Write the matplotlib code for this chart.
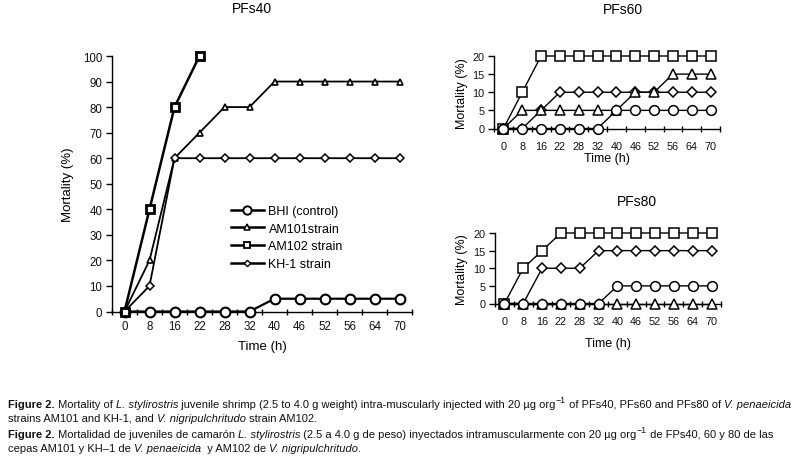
import matplotlib
matplotlib.use("Agg")
import matplotlib.pyplot as plt
from matplotlib import font_manager
from matplotlib.lines import Line2D

# ---------------- data ----------------
time_labels = ['0', '8', '16', '22', '28', '32', '40', '46', '52', '56', '64', '70']

pfs40_bhi = [0, 0, 0, 0, 0, 0, 5, 5, 5, 5, 5, 5]
pfs40_am101 = [0, 20, 60, 70, 80, 80, 90, 90, 90, 90, 90, 90]
pfs40_am102 = [0, 40, 80, 100]
pfs40_kh1 = [0, 10, 60, 60, 60, 60, 60, 60, 60, 60, 60, 60]

pfs60_bhi = [0, 0, 0, 0, 0, 0, 5, 5, 5, 5, 5, 5]
pfs60_am101 = [0, 5, 5, 5, 5, 5, 5, 10, 10, 15, 15, 15]
pfs60_am102 = [0, 10, 20, 20, 20, 20, 20, 20, 20, 20, 20, 20]
pfs60_kh1 = [0, 0, 5, 10, 10, 10, 10, 10, 10, 10, 10, 10]

pfs80_bhi = [0, 0, 0, 0, 0, 0, 5, 5, 5, 5, 5, 5]
pfs80_am101 = [0, 0, 0, 0, 0, 0, 0, 0, 0, 0, 0, 0]
pfs80_am102 = [0, 10, 15, 20, 20, 20, 20, 20, 20, 20, 20, 20]
pfs80_kh1 = [0, 0, 10, 10, 10, 15, 15, 15, 15, 15, 15, 15]

legend_labels = ['BHI (control)', 'AM101strain', 'AM102 strain', 'KH-1 strain']
panel_titles = ['PFs40', 'PFs60', 'PFs80']

# ---------------- fonts ----------------
avail = {f.name for f in font_manager.fontManager.ttflist}
base_font = 'Liberation Sans' if 'Liberation Sans' in avail else 'DejaVu Sans'
cap_font = 'Liberation Sans Narrow' if 'Liberation Sans Narrow' in avail else base_font
plt.rcParams['font.family'] = [base_font, 'DejaVu Sans']

W, H = 793, 464
fig = plt.figure(figsize=(W / 100, H / 100), dpi=100)
fig.patch.set_facecolor('white')


def px_axes(l, r, t, b):
    return fig.add_axes([l / W, 1 - b / H, (r - l) / W, (b - t) / H])


def style_axes(ax, ymax, ystep, fs, xpad):
    n = len(time_labels)
    ax.set_xlim(-0.5, n - 0.5)
    ax.set_ylim(0, ymax)
    ax.set_yticks(list(range(0, ymax + 1, ystep)))
    ax.set_xticks(range(n))
    ax.set_xticklabels(time_labels)
    ax.set_xticks([i - 0.5 for i in range(n + 1)], minor=True)
    ax.tick_params(axis='x', which='major', length=0, labelsize=fs, pad=xpad)
    ax.tick_params(axis='x', which='minor', length=4, width=1, direction='inout')
    ax.tick_params(axis='y', length=4, width=1, direction='out', labelsize=fs, pad=3)
    for s in ['top', 'right']:
        ax.spines[s].set_visible(False)
    for s in ['left', 'bottom']:
        ax.spines[s].set_linewidth(1)
        ax.spines[s].set_color('black')
    for lab in ax.get_xticklabels() + ax.get_yticklabels():
        lab.set_color('#111111')
    ax.patch.set_alpha(0)


x = list(range(len(time_labels)))

# ---------------- PFs40 ----------------
l1, r1, t1, b1 = 112, 412, 57, 312.5
ax1 = px_axes(l1, r1, t1, b1)
style_axes(ax1, 100, 10, 8.3, 6)
ax1.plot(x, pfs40_bhi, '-o', color='black', lw=1.6, ms=7, mfc='white', mec='black', mew=1.5,
         zorder=3, clip_on=False)
ax1.plot(x, pfs40_am101, '-^', color='black', lw=1.3, ms=5, mfc='white', mec='black', mew=1.2,
         zorder=3, clip_on=False)
ax1.plot(x[:len(pfs40_am102)], pfs40_am102, '-s', color='black', lw=1.8, ms=5.5, mfc='white',
         mec='black', mew=2, zorder=4, clip_on=False)
ax1.plot(x, pfs40_kh1, '-D', color='black', lw=1.3, ms=3.8, mfc='white', mec='black', mew=1.1,
         zorder=3, clip_on=False)
ax1.set_xlabel('Time (h)', fontsize=9.5)
ax1.xaxis.set_label_coords(0.5, -(341 - b1) / (b1 - t1))
ax1.set_ylabel('Mortality (%)', fontsize=9.5)
ax1.yaxis.set_label_coords(-(l1 - 74) / (r1 - l1), 0.5)

handles = [
    Line2D([], [], color='black', lw=1.8, marker='o', ms=6, mfc='white', mec='black', mew=1.4),
    Line2D([], [], color='black', lw=1.8, marker='^', ms=4, mfc='white', mec='black', mew=1.1),
    Line2D([], [], color='black', lw=1.8, marker='s', ms=4, mfc='white', mec='black', mew=1.3),
    Line2D([], [], color='black', lw=1.8, marker='D', ms=3.2, mfc='white', mec='black', mew=1.0),
]
ax1.legend(handles, legend_labels, loc='upper left',
           bbox_to_anchor=((226 - l1) / (r1 - l1), 1 - (201 - t1) / (b1 - t1)),
           frameon=False, fontsize=9, handlelength=2.6, handletextpad=0.4,
           labelspacing=0.45, borderaxespad=0)
fig.text(252 / W, 1 - 9 / H, panel_titles[0], ha='center', va='center', fontsize=10)


def small_panel(l, r, t, b, bhi, am101, am102, kh1, title, tx, ty, xlab_top):
    ax = px_axes(l, r, t, b)
    style_axes(ax, 20, 5, 7.8, 9)
    ax.plot(x, am102, '-s', color='black', lw=1.0, ms=7.5, mfc='white', mec='black', mew=1.1,
            zorder=3, clip_on=False)
    ax.plot(x, kh1, '-D', color='black', lw=1.0, ms=5.5, mfc='white', mec='black', mew=1.1,
            zorder=3, clip_on=False)
    ax.plot(x, am101, '-^', color='black', lw=1.0, ms=6.5, mfc='white', mec='black', mew=1.1,
            zorder=3, clip_on=False)
    ax.plot(x, bhi, '-o', color='black', lw=1.0, ms=7, mfc='white', mec='black', mew=1.1,
            zorder=3, clip_on=False)
    ax.set_xlabel('Time (h)', fontsize=9)
    ax.xaxis.set_label_coords(0.5, -(xlab_top - b) / (b - t))
    ax.set_ylabel('Mortality (%)', fontsize=9)
    ax.yaxis.set_label_coords(-(l - 468) / (r - l), 0.5)
    fig.text(tx / W, 1 - ty / H, title, ha='center', va='center', fontsize=10)
    return ax


small_panel(494, 720, 57, 129.5, pfs60_bhi, pfs60_am101, pfs60_am102, pfs60_kh1,
            panel_titles[1], 623, 10, 153.5)
small_panel(495, 721, 234, 304.5, pfs80_bhi, pfs80_am101, pfs80_am102, pfs80_kh1,
            panel_titles[2], 637, 202, 338)

# ---------------- caption ----------------
cap1 = [('Figure 2.', 'b'), (' Mortality of ', 'n'), ('L. stylirostris', 'i'),
        (' juvenile shrimp (2.5 to 4.0 g weight) intra-muscularly injected with 20 µg org', 'n'),
        ('−1', 's'), (' of PFs40, PFs60 and PFs80 of ', 'n'), ('V. penaeicida', 'i')]
cap2 = [('strains AM101 and KH-1, and ', 'n'), ('V. nigripulchritudo', 'i'), (' strain AM102.', 'n')]
cap3 = [('Figure 2.', 'b'), (' Mortalidad de juveniles de camarón ', 'n'), ('L. stylirostris', 'i'),
        (' (2.5 a 4.0 g de peso) inyectados intramuscularmente con 20 µg org', 'n'), ('−1', 's'),
        (' de FPs40, 60 y 80 de las', 'n')]
cap4 = [('cepas AM101 y KH–1 de ', 'n'), ('V. penaeicida', 'i'), ('  y AM102 de ', 'n'),
        ('V. nigripulchritudo', 'i'), ('.', 'n')]

renderer = fig.canvas.get_renderer()


def draw_rich(x0, y0, segs, fs, family, draw=True):
    xp = x0
    arts = []
    for txt, st in segs:
        kw = dict(fontsize=fs, family=[family, 'DejaVu Sans'], va='baseline', ha='left',
                  color='#111111')
        yy = y0
        if st == 'b':
            kw['fontweight'] = 'bold'
            kw['family'] = [base_font, 'DejaVu Sans']
        elif st == 'i':
            kw['fontstyle'] = 'italic'
        elif st == 's':
            kw['fontsize'] = fs * 0.8
            yy = y0 - fs * 0.42 * 100 / 72
        t = fig.text(xp / W, 1 - yy / H, txt, **kw)
        bb = t.get_window_extent(renderer=renderer)
        xp += bb.width
        arts.append(t)
    if not draw:
        for a in arts:
            a.remove()
    return xp - x0


# fit caption font size so the first line spans the same width as in the reference
fs = 9.0
w = draw_rich(8, 408, cap1, fs, cap_font, draw=False)
fs = fs * (790 - 8) / w

draw_rich(8, 408, cap1, fs, cap_font)
draw_rich(8, 422, cap2, fs, cap_font)
draw_rich(8, 438, cap3, fs, cap_font)
draw_rich(8, 452, cap4, fs, cap_font)

fig.savefig('out.png', dpi=100)
